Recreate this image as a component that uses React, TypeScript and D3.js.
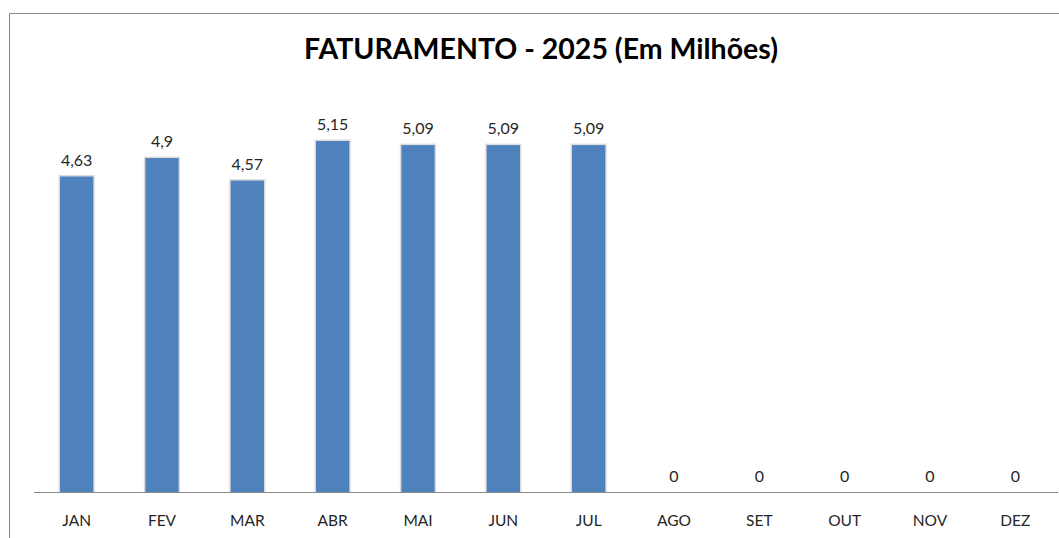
import React, { useEffect, useRef } from "react";
import * as d3 from "d3";

const months = ["JAN", "FEV", "MAR", "ABR", "MAI", "JUN", "JUL", "AGO", "SET", "OUT", "NOV", "DEZ"];
const values = [4.63, 4.9, 4.57, 5.15, 5.09, 5.09, 5.09, 0, 0, 0, 0, 0];
const valueLabels = ["4,63", "4,9", "4,57", "5,15", "5,09", "5,09", "5,09", "0", "0", "0", "0", "0"];

const W = 1059;
const H = 538;
const FONT = "Lato, 'Open Sans', sans-serif";

const App = () => {
  const svgRef = useRef<SVGSVGElement>(null);

  useEffect(() => {
    const svg = d3.select(svgRef.current);
    svg.selectAll("*").remove();

    const baseY = 492.5;
    const x = d3.scaleBand().domain(months).range([34, 1058]).paddingInner(0.61).paddingOuter(0.305);
    const y = d3.scaleLinear().domain([0, 6]).range([baseY, 83]);

    svg.append("rect").attr("width", W).attr("height", H).attr("fill", "#fff");

    // chart frame (cropped on the right/bottom)
    svg
      .append("path")
      .attr("d", `M9.5,${H} V13.5 H${W}`)
      .attr("fill", "none")
      .attr("stroke", "#898989")
      .attr("stroke-width", 1);

    svg
      .append("text")
      .attr("x", 541)
      .attr("y", 59)
      .attr("text-anchor", "middle")
      .style("font-family", FONT)
      .style("font-weight", 700)
      .style("font-size", "28.5px")
      .attr("fill", "#000")
      .text("FATURAMENTO - 2025 (Em Milhões)");

    const data = months.map((m, i) => ({ m, v: values[i], label: valueLabels[i] }));

    // soft bar outline
    svg
      .selectAll("rect.shadow")
      .data(data.filter(d => d.v > 0))
      .enter()
      .append("rect")
      .attr("class", "shadow")
      .attr("x", d => x(d.m)! - 1.5)
      .attr("y", d => y(d.v) - 1.5)
      .attr("width", x.bandwidth() + 3)
      .attr("height", d => baseY - y(d.v) + 1.5)
      .attr("fill", "#dcdcdc");

    svg
      .selectAll("rect.bar")
      .data(data.filter(d => d.v > 0))
      .enter()
      .append("rect")
      .attr("class", "bar")
      .attr("x", d => x(d.m)!)
      .attr("y", d => y(d.v))
      .attr("width", x.bandwidth())
      .attr("height", d => baseY - y(d.v))
      .attr("fill", "#4f81bd");

    // axis line
    svg
      .append("line")
      .attr("x1", 34)
      .attr("x2", 1058)
      .attr("y1", baseY)
      .attr("y2", baseY)
      .attr("stroke", "#898989")
      .attr("stroke-width", 1);

    svg
      .selectAll("text.val")
      .data(data)
      .enter()
      .append("text")
      .attr("class", "val")
      .attr("x", d => x(d.m)! + x.bandwidth() / 2)
      .attr("y", d => y(d.v) - 11)
      .attr("text-anchor", "middle")
      .style("font-family", FONT)
      .style("font-size", "16px")
      .attr("fill", "#262626")
      .text(d => d.label);

    svg
      .selectAll("text.cat")
      .data(data)
      .enter()
      .append("text")
      .attr("class", "cat")
      .attr("x", d => x(d.m)! + x.bandwidth() / 2)
      .attr("y", 526)
      .attr("text-anchor", "middle")
      .style("font-family", FONT)
      .style("font-size", "15.5px")
      .attr("fill", "#262626")
      .text(d => d.m);
  }, []);

  return (
    <svg
      ref={svgRef}
      width={W}
      height={H}
      style={{ position: "absolute", left: 0, top: 0, display: "block" }}
    />
  );
};

export default App;
